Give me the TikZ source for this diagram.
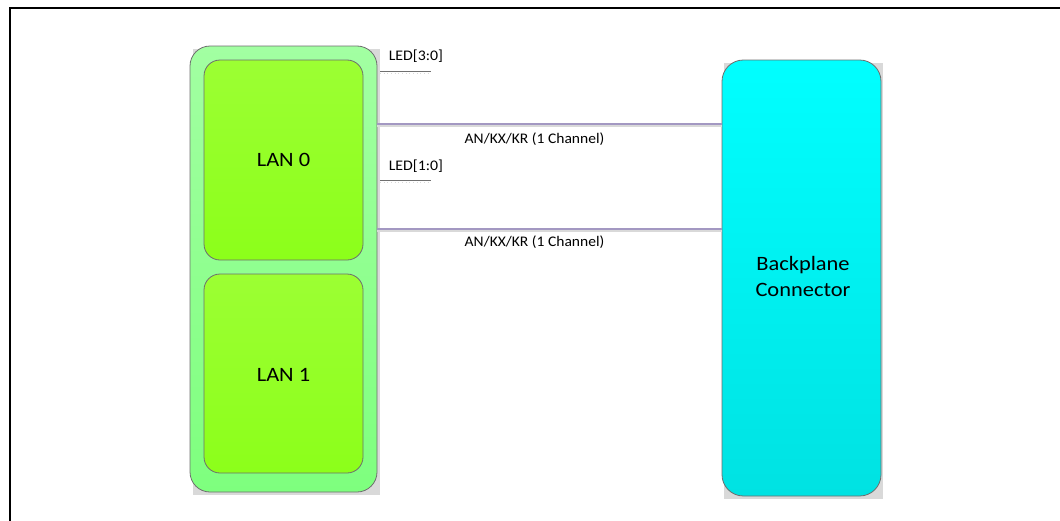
\documentclass[tikz,border=0pt]{standalone}
\usepackage{fontspec}
\setmainfont{Carlito}
\usepackage{graphicx}
\definecolor{bordergray}{HTML}{6E6E6E}
\definecolor{shadowgray}{HTML}{D9D9D9}
\definecolor{outertop}{HTML}{A2FFA2}
\definecolor{outerbot}{HTML}{7EFF7E}
\definecolor{lantop}{HTML}{9CFF33}
\definecolor{lanbot}{HTML}{8CFF1A}
\definecolor{bptop}{HTML}{00FFFF}
\definecolor{bpbot}{HTML}{00E2E2}
\definecolor{linkcol}{HTML}{A398C2}
\definecolor{ledcol}{HTML}{707070}
\tikzset{
  shadowbox/.style={fill=shadowgray, draw=none, inner sep=0pt},
  outerbox/.style={draw=bordergray, line width=0.6pt, rounded corners=15pt,
    top color=outertop, bottom color=outerbot, inner sep=0pt,
    minimum width=140.25pt, minimum height=334.5pt},
  lanbox/.style={draw=bordergray, line width=0.6pt, rounded corners=12pt,
    top color=lantop, bottom color=lanbot, inner sep=0pt,
    minimum width=119.25pt, minimum height=150pt},
  bpbox/.style={draw=bordergray, line width=0.6pt, rounded corners=16pt,
    top color=bptop, bottom color=bpbot, inner sep=0pt,
    minimum width=119.25pt, minimum height=327pt},
  bigtext/.style={inner sep=0pt, font=\fontsize{15.3}{19.5}\selectfont, align=center},
  smalltext/.style={inner sep=0pt, font=\fontsize{11}{13}\selectfont},
  linkline/.style={draw=linkcol, line width=1.1pt},
  linkshadow/.style={draw=shadowgray, line width=0.8pt},
  ledline/.style={draw=ledcol, line width=0.9pt},
  ledshadow/.style={draw=shadowgray, line width=0.75pt, dotted},
  frameline/.style={draw=black, line width=1.9pt}
}
\begin{document}
\begin{tikzpicture}[x=0.75pt,y=-0.75pt]
\useasboundingbox (0,0) rectangle (1060,521);
% frame
\draw[frameline] (10,523) -- (10,8) -- (1062,8);

% shadows
\node[shadowbox, minimum width=140.25pt, minimum height=334.5pt] at (286,271.5) {};
\node[shadowbox, minimum width=119.25pt, minimum height=150pt] at (285.5,162) {};
\node[shadowbox, minimum width=119.25pt, minimum height=149.25pt] at (285.5,375.5) {};
\node[shadowbox, minimum width=119.25pt, minimum height=327pt] at (803.5,280.5) {};

% boxes
\node[outerbox] (outer) at (283.5,269) {};
\node[lanbox] (lan0) at (283.5,160) {};
\node[lanbox, minimum height=149.25pt] (lan1) at (283.5,373.5) {};
\node[bpbox] (bp) at (801.5,278) {};

% box labels
\node[bigtext, anchor=base] (lan0t) at (283.5,166.7) {\scalebox{1.1}[1]{LAN 0}};
\node[bigtext, anchor=base] (lan1t) at (283.5,381.7) {\scalebox{1.1}[1]{LAN 1}};
\node[bigtext, anchor=base] (bpt1) at (803,270.7) {\scalebox{1.1}[1]{Backplane}};
\node[bigtext, anchor=base] (bpt2) at (803,296.7) {\scalebox{1.1}[1]{Connector}};

% link lines
\coordinate (l1) at (0,124);
\coordinate (l2) at (0,229);
\coordinate (l1s) at (0,126);
\coordinate (l2s) at (0,231);
\draw[linkshadow] (outer.east |- l1s) -- (bp.west |- l1s);
\draw[linkshadow] (outer.east |- l2s) -- (bp.west |- l2s);
\draw[linkline] (outer.east |- l1) -- (bp.west |- l1);
\draw[linkline] (outer.east |- l2) -- (bp.west |- l2);
\node[smalltext, anchor=base] (ch1) at (534.5,143.3) {\scalebox{1.06}[1]{AN/KX/KR (1 Channel)}};
\node[smalltext, anchor=base] (ch2) at (534.5,246.3) {\scalebox{1.06}[1]{AN/KX/KR (1 Channel)}};

% LED lines
\coordinate (led1a) at (380,71.5);
\coordinate (led1b) at (431,71.5);
\coordinate (led2a) at (380,180.5);
\coordinate (led2b) at (431,180.5);
\draw[ledshadow] ([yshift=-1.2pt]led1a) -- ([yshift=-1.2pt]led1b);
\draw[ledshadow] ([yshift=-1.2pt]led2a) -- ([yshift=-1.2pt]led2b);
\draw[ledline] (led1a) -- (led1b);
\draw[ledline] (led2a) -- (led2b);
\node[smalltext, anchor=base west] (led1) at (388.5,60.7) {\scalebox{1.08}[1]{LED[3:0]}};
\node[smalltext, anchor=base west] (led2) at (388.5,170) {\scalebox{1.08}[1]{LED[1:0]}};
\end{tikzpicture}
\end{document}
